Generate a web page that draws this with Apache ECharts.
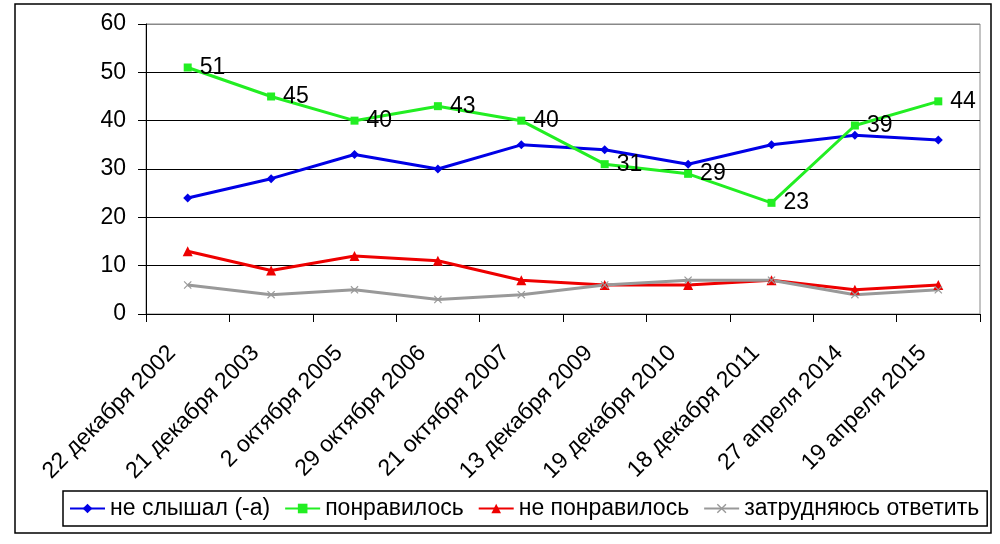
<!DOCTYPE html>
<html><head><meta charset="utf-8">
<script src="https://cdn.jsdelivr.net/npm/echarts@6/dist/echarts.min.js"></script>
<style>html,body{margin:0;padding:0;background:#fff}#c{width:1000px;height:544px}</style>
</head><body><div id="c"></div>
<script>
const categories = ['22 декабря 2002','21 декабря 2003','2 октября 2005','29 октября 2006','21 октября 2007','13 декабря 2009','19 декабря 2010','18 декабря 2011','27 апреля 2014','19 апреля 2015'];
const notHeard = [24,28,33,30,35,34,31,35,37,36];
const liked = [51,45,40,43,40,31,29,23,39,44];
const disliked = [13,9,12,11,7,6,6,7,5,6];
const hardToSay = [6,4,5,3,4,6,7,7,4,5];
const yTicks = {min:0,max:60,interval:10};

const FONT = '"Liberation Sans", Arial, sans-serif';
const xPath = 'path://M0,1 L1,0 L5,4 L9,0 L10,1 L6,5 L10,9 L9,10 L5,6 L1,10 L0,9 L4,5 Z';
const chart = echarts.init(document.getElementById('c'));
chart.setOption({
  animation:false,
  backgroundColor:'#fff',
  textStyle:{fontFamily:FONT},
  graphic:[{type:'rect',shape:{x:15,y:4,width:976,height:529},style:{fill:'none',stroke:'#000',lineWidth:1.5},z:-1}],
  grid:{left:146,right:20,top:24,bottom:230,show:true,borderColor:'#888',borderWidth:1},
  legend:{
    left:63, top:491,
    backgroundColor:'#fff', borderColor:'#000', borderWidth:1.5,
    padding:[6,8,6,6], itemGap:14, itemWidth:35, itemHeight:12,
    textStyle:{fontSize:23,color:'#000',fontFamily:FONT},
    data:['не слышал (-а)','понравилось','не понравилось','затрудняюсь ответить']
  },
  xAxis:{type:'category',data:categories,boundaryGap:true,
    axisLine:{lineStyle:{color:'#000',width:1}},
    axisTick:{show:true,length:8,lineStyle:{color:'#000'}},
    axisLabel:{rotate:45,fontSize:23,color:'#000',margin:20,interval:0,padding:[0,22,0,0],fontFamily:FONT}},
  yAxis:{type:'value',min:yTicks.min,max:yTicks.max,interval:yTicks.interval,
    axisLine:{show:true,lineStyle:{color:'#000',width:1}},
    axisTick:{show:true,length:8,lineStyle:{color:'#000'}},
    axisLabel:{fontSize:23,color:'#000',margin:20,fontFamily:FONT},
    splitLine:{lineStyle:{color:['#000','#000','#000','#000','#000','#000','#888'],width:1}}},
  series:[
    {name:'не слышал (-а)',type:'line',data:notHeard,color:'#0000e6',symbol:'diamond',symbolSize:9,lineStyle:{width:3}},
    {name:'понравилось',type:'line',data:liked,color:'#22ee22',symbol:'rect',symbolSize:8,lineStyle:{width:3},
      label:{show:true,position:'right',distance:8,fontSize:23,color:'#000',fontFamily:FONT}},
    {name:'не понравилось',type:'line',data:disliked,color:'#ee0000',symbol:'triangle',symbolSize:10,lineStyle:{width:3}},
    {name:'затрудняюсь ответить',type:'line',data:hardToSay,color:'#999999',symbol:xPath,symbolSize:8,lineStyle:{width:3}}
  ]
});
</script></body></html>
